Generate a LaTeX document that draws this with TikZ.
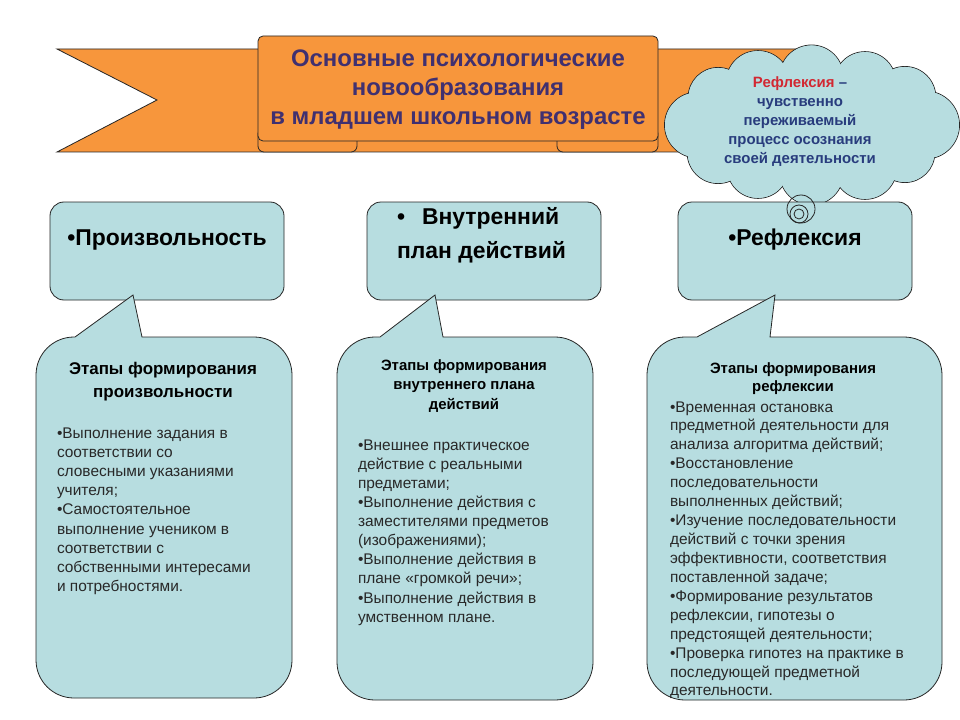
\documentclass[tikz,border=0pt]{standalone}
\usepackage{fontspec}
\setmainfont{Liberation Sans}
\definecolor{orng}{RGB}{247,150,60}
\definecolor{tealbox}{RGB}{183,221,224}
\definecolor{titlecol}{RGB}{64,48,112}
\definecolor{cloudtxt}{RGB}{40,60,125}
\definecolor{redtxt}{RGB}{210,40,50}
\definecolor{bodytxt}{RGB}{40,40,40}
\newcommand\fs[2]{\fontsize{#1}{#2}\selectfont}
\newcommand\Lt[1]{\begin{tabular}[t]{@{}l@{}}#1\end{tabular}}
\newcommand\Ct[1]{\begin{tabular}[t]{@{}c@{}}#1\end{tabular}}
\tikzset{
  edge/.style={draw=black!85, line width=0.8bp},
  ribbon/.style={edge, fill=orng},
  topbox/.style={edge, fill=tealbox, rounded corners=14bp},
  callout/.style={edge, fill=tealbox},
  txt/.style={inner sep=0pt, outer sep=0pt},
}
\newcommand\calloutbox[8]{%
  \draw[callout] (#5,#2) -- (#6,#7) -- (#8,#2) -- ({#3-38},#2) arc (270:360:38)
    -- (#3,{#4-38}) arc (0:90:38) -- ({#1+38},#4) arc (90:180:38)
    -- (#1,{#2+38}) arc (180:270:38) -- cycle;}
\newcommand\puffs{0/34,35/30,62/32,90/32,118/31,145/31,180/33,215/30,242/32,270/32,298/31,325/31}
\begin{document}
\begin{tikzpicture}[x=1bp,y=-1bp]
\useasboundingbox (0,0) rectangle (960,720);
\fill[white] (0,0) rectangle (960,720);

% ribbon
\draw[ribbon] (57,49) -- (800,49) -- (700,152) -- (57,152) -- (157,100) -- cycle;
\draw[ribbon, rounded corners=6bp] (258,128) rectangle (357,152);
\draw[ribbon, rounded corners=6bp] (557,128) rectangle (658,152);
\draw[ribbon, rounded corners=5bp] (258,36) rectangle (658,141);
\node[txt, anchor=base, text=titlecol] (title) at (458,67)
  {\fs{24}{29}\bfseries\Ct{Основные психологические\\новообразования\\в младшем школьном возрасте}};

% cloud
\coordinate (cl) at (811.5,125);
\foreach \a/\r in \puffs
  \draw[edge, fill=tealbox] ({811.5+114*cos(\a)},{125+48*sin(\a)}) circle (\r);
\foreach \a/\r in \puffs
  \fill[tealbox] ({811.5+114*cos(\a)},{125+48*sin(\a)}) circle ({\r-0.5});
\fill[tealbox] (cl) ellipse (114 and 48);
\node[txt, anchor=base, text=cloudtxt] (cltext) at (800,88)
  {\fs{15}{19}\bfseries\Ct{\textcolor{redtxt}{Рефлексия} –\\чувственно\\переживаемый\\процесс осознания\\своей деятельности}};

% top boxes
\draw[topbox] (50,202) rectangle (284,300);
\draw[topbox] (367,202) rectangle (601,300);
\draw[topbox] (678,202) rectangle (912,300);
\node[txt, anchor=base] (h1) at (167,245) {\fs{23}{28}\bfseries •Произвольность};
\node[txt, anchor=base west] (h2) at (397,224) {\fs{23}{35}\bfseries\Lt{•\hspace{17bp}Внутренний\\план действий}};
\node[txt, anchor=base] (h3) at (795,245) {\fs{23}{28}\bfseries •Рефлексия};

% thought bubbles
\draw[edge] (801,209) circle (14);
\draw[edge] (799,214) circle (9);
\draw[edge] (799,214) circle (5);

% callouts
\calloutbox{36}{337}{292}{698}{75}{133}{295}{142}
\calloutbox{337}{337}{593}{700}{380}{435}{295}{443}
\calloutbox{647}{337}{942}{700}{697}{775}{295}{770}

\node[txt, anchor=base] (s1h) at (163,374) {\fs{17}{24}\bfseries\Ct{Этапы формирования\\произвольности}};
\node[txt, anchor=base west, text=bodytxt] (s1b) at (57,438) {\fs{15.5}{19.3}\Lt{%
•Выполнение задания в\\соответствии со\\словесными указаниями\\учителя;\\%
•Самостоятельное\\выполнение учеником в\\соответствии с\\собственными интересами\\и потребностями.}};

\node[txt, anchor=base] (s2h) at (464,370) {\fs{15}{20}\bfseries\Ct{Этапы формирования\\внутреннего плана\\действий}};
\node[txt, anchor=base west, text=bodytxt] (s2b) at (358,450) {\fs{15.5}{19.2}\Lt{%
•Внешнее практическое\\действие с реальными\\предметами;\\%
•Выполнение действия с\\заместителями предметов\\(изображениями);\\%
•Выполнение действия в\\плане «громкой речи»;\\%
•Выполнение действия в\\умственном плане.}};

\node[txt, anchor=base] (s3h) at (793,373) {\fs{15}{19}\bfseries\Ct{Этапы формирования\\рефлексии}};
\node[txt, anchor=base west, text=bodytxt] (s3b) at (670,412) {\fs{15.5}{19}\Lt{%
•Временная остановка\\предметной деятельности для\\анализа алгоритма действий;\\%
•Восстановление\\последовательности\\выполненных действий;\\%
•Изучение последовательности\\действий с точки зрения\\эффективности, соответствия\\поставленной задаче;\\%
•Формирование результатов\\рефлексии, гипотезы о\\предстоящей деятельности;\\%
•Проверка гипотез на практике в\\последующей предметной\\деятельности.}};
\end{tikzpicture}
\end{document}
